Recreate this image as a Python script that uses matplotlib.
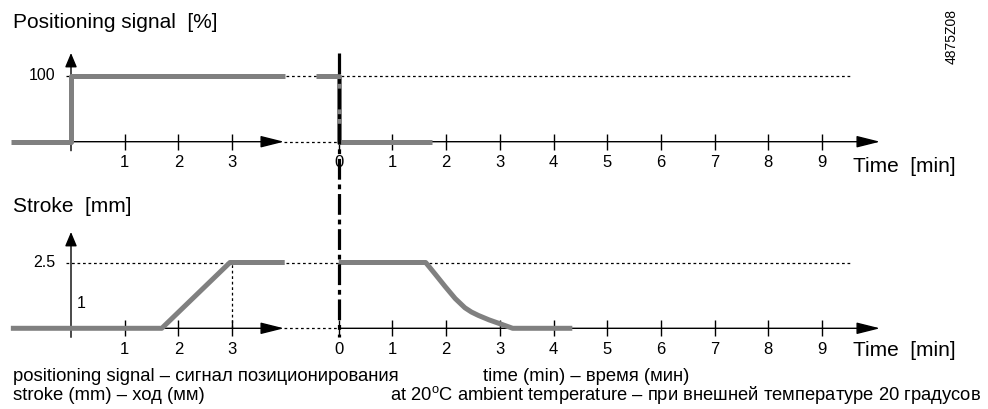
import numpy as np
import matplotlib
matplotlib.use("Agg")
import matplotlib.pyplot as plt
import matplotlib.transforms as mtransforms
from matplotlib.lines import Line2D

plt.rcParams["font.family"] = ["Liberation Sans", "DejaVu Sans"]
plt.rcParams["mathtext.fontset"] = "custom"
plt.rcParams["mathtext.rm"] = "Liberation Sans"

# --- data (times in minutes) ---
# left block: signal switched on at t=0; right block: signal switched off at t=0
signal_on_t = [-1.12, 0.0, 0.0, 3.98]
signal_on_v = [0, 0, 100, 100]
signal_off_t = [-0.42, 0.0, 0.0, 1.73]
signal_off_v = [100, 100, 0, 0]

stroke_open_t = [-1.12, 1.69, 2.96, 3.98]
stroke_open_v = [0, 0, 2.5, 2.5]
stroke_close_t = [0.0, 1.62, 1.8, 1.985, 2.17, 2.35, 2.47, 2.6, 2.8, 2.98, 3.24, 4.35]
stroke_close_v = [2.5, 2.5, 2.05, 1.58, 1.13, 0.78, 0.62, 0.49, 0.32, 0.19, 0.0, 0.0]

ticks_on = [1, 2, 3]
ticks_off = [0, 1, 2, 3, 4, 5, 6, 7, 8, 9]
signal_max = 100
stroke_max = 2.5

# --- layout in pixels ---
W, H = 988, 409
PX_MIN = 53.7          # pixels per minute
X0 = 71.0              # left origin
X_OFF = 338.7          # right origin (switch-off moment)
SHIFT = (X_OFF - X0) / PX_MIN
GREY = "#808080"

fig = plt.figure(figsize=(W / 100, H / 100), dpi=100)


def fx(px):
    return px / W


def fy(py):
    return 1 - py / H


def make_row(y0, ppu):
    ax = fig.add_axes([0, 0, 1, 1])
    ax.set_xlim(-X0 / PX_MIN, (W - X0) / PX_MIN)
    ax.set_ylim((y0 - H) / ppu, y0 / ppu)
    ax.axis("off")
    ax.patch.set_alpha(0)
    return ax


def tx(px):
    return (px - X0) / PX_MIN


def draw_row(ax, y0, ppu, on_t, on_v, off_t, off_v, ymax, ymax_label, tip_py, label_dy, time_py):
    vy = lambda py: (y0 - py) / ppu
    arrow_x = dict(arrowstyle="-|>,head_length=1.44,head_width=0.36", color="black",
                   lw=1, shrinkA=0, shrinkB=0, mutation_scale=10)
    arrow_y = dict(arrowstyle="-|>,head_length=0.86,head_width=0.36", color="black",
                   lw=1, shrinkA=0, shrinkB=0, mutation_scale=10)

    # dotted guide lines
    dots = dict(color="black", lw=0.9, ls=(0, (2.2, 2.2)), zorder=1)
    ax.plot([tx(66), tx(851)], [ymax, ymax], **dots)
    ax.plot([tx(284), SHIFT], [0, 0], **dots)

    # axes with arrows
    ax.annotate("", xy=(tx(284), 0), xytext=(0, 0), arrowprops=arrow_x)
    ax.annotate("", xy=(0, vy(tip_py)), xytext=(0, vy(y0 + 9)), arrowprops=arrow_y)
    ax.annotate("", xy=(tx(880), 0), xytext=(SHIFT, 0), arrowprops=arrow_x)

    # ticks and tick labels
    ax.plot(ticks_on, np.zeros(len(ticks_on)), ls="none", marker="|", ms=11.5, mew=1, color="black")
    ax.plot(np.array(ticks_off) + SHIFT, np.zeros(len(ticks_off)), ls="none", marker="|",
            ms=11.5, mew=1, color="black")
    for t in ticks_on:
        ax.annotate(str(t), (t, 0), xytext=(0, -label_dy), textcoords="offset points",
                    ha="center", va="center", fontsize=12)
    for t in ticks_off:
        ax.annotate(str(t), (t + SHIFT, 0), xytext=(0, -label_dy), textcoords="offset points",
                    ha="center", va="center", fontsize=12)
    ax.text(tx(55), ymax, ymax_label, ha="right", va="center", fontsize=11.5)
    ax.text(tx(853), vy(time_py), "Time  [min]", ha="left", va="center", fontsize=15)

    # curves
    line = dict(color=GREY, lw=3.6, solid_capstyle="butt", solid_joinstyle="round", zorder=3)
    ax.plot(on_t, on_v, **line)
    ax.plot(np.array(off_t) + SHIFT, off_v, **line)
    return vy


# top row: positioning signal
ax_top = make_row(141.7, 65.7 / signal_max)
draw_row(ax_top, 141.7, 65.7 / signal_max, signal_on_t, signal_on_v, signal_off_t, signal_off_v,
         signal_max, "100", 53, 15.0, 166.7)

# bottom row: stroke
ax_bot = make_row(328.3, 65.8 / stroke_max)
vy_bot = draw_row(ax_bot, 328.3, 65.8 / stroke_max, stroke_open_t, stroke_open_v, stroke_close_t,
                  stroke_close_v, stroke_max, "2.5", 232, 15.0, 351)
ax_bot.plot([3, 3], [0, stroke_max], color="black", lw=0.9, ls=(0, (2.2, 2.2)), zorder=1)
ax_bot.text(tx(77), vy_bot(303), "1", ha="left", va="center", fontsize=11.5)

# dash-dot line marking the switch-off moment
trans = mtransforms.blended_transform_factory(ax_bot.transData, fig.transFigure)
fig.add_artist(Line2D([SHIFT, SHIFT], [fy(53), fy(337)], transform=trans, color="black",
                      lw=2.3, ls=(0, (6.5, 1.5, 1.5, 1.5)), zorder=5))

# titles and notes
fig.text(fx(13), fy(22), "Positioning signal  [%]", ha="left", va="center", fontsize=15)
fig.text(fx(13), fy(207), "Stroke  [mm]", ha="left", va="center", fontsize=15)
fig.text(fx(13), fy(376.7), "positioning signal – сигнал позиционирования", ha="left",
         va="center", fontsize=13.3)
fig.text(fx(13), fy(395), "stroke (mm) – ход (мм)", ha="left", va="center", fontsize=13.3)
fig.text(fx(483), fy(376.7), "time (min) – время (мин)", ha="left", va="center", fontsize=13.3)
fig.text(fx(390), fy(395), r"at 20$^{\mathrm{o}}$C ambient temperature – при внешней температуре 20 градусов",
         ha="left", va="center", fontsize=13.2)
fig.text(fx(952), fy(37), "4875Z08", ha="center", va="center", rotation=90, fontsize=10)

fig.savefig("out.png", dpi=100)
